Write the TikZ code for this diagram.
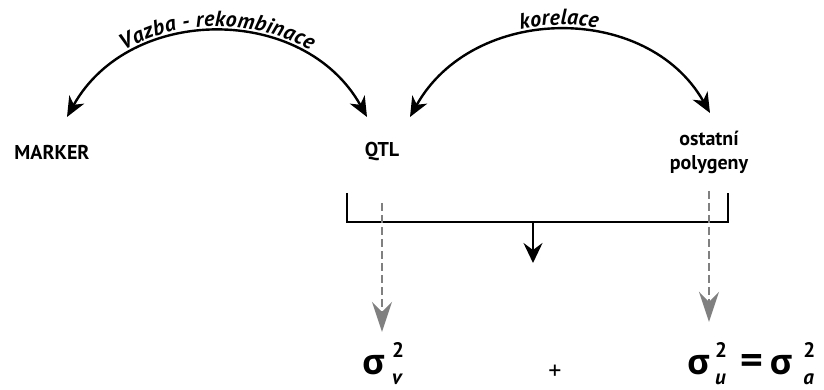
\documentclass[tikz,border=0pt]{standalone}
\usepackage{fontspec}
\setmainfont{PT Sans}
\newfontfamily\greekfont{Open Sans}
\usetikzlibrary{arrows.meta, positioning, decorations.text}

\newcommand{\vsig}[2]{{\greekfont\bfseries σ}\kern#1\rlap{\fontsize{21}{24}\selectfont\bfseries\raisebox{17pt}{2}}{\fontsize{21}{24}\selectfont\bfseries\itshape\raisebox{-10pt}{#2}}}
\newcommand{\arclabfont}{\fontsize{22}{26}\selectfont\bfseries\itshape}

\begin{document}
\begin{tikzpicture}[x=1pt, y=-1pt,
    lbl/.style={font=\fontsize{20}{24}\selectfont\bfseries, align=center},
    arc/.style={line width=2.4pt, {Stealth[length=20pt,width=17pt,inset=6pt]}-{Stealth[length=20pt,width=17pt,inset=6pt]}},
    bracket/.style={line width=2.4pt},
    down/.style={line width=2.4pt, -{Stealth[length=20pt,width=19pt,inset=7pt]}},
    dasharrow/.style={line width=2pt, gray, dash pattern=on 8pt off 4pt, -{Stealth[length=30pt,width=20pt,inset=10pt]}},
    sig/.style={font=\fontsize{35}{38}\selectfont, inner sep=0pt, anchor=base west}]
    \useasboundingbox (0,0) rectangle (824,390);

    \node [lbl] (marker) at (52,152) {MARKER};
    \node [lbl, right of=marker, node distance=330pt] (qtl) {QTL};
    \node [lbl, right of=qtl, node distance=327pt] (poly) {ostatní\\polygeny};

    \node [sig] (sv) at (362,374) {\vsig{7pt}{v}};
    \node [font=\fontsize{26}{30}\selectfont] (plus) at (555,372) {+};
    \node [sig] (su) at (687,374) {\vsig{5pt}{u}\kern15pt{\greekfont\bfseries\fontsize{40}{40}\selectfont =}\kern6pt\vsig{11pt}{a}};

    \coordinate (mk-top) at (67,117);
    \coordinate (qtl-l) at (367,117);
    \coordinate (qtl-r) at (410,117);
    \coordinate (poly-top) at (710,113);

    \draw [arc, postaction={decorate, decoration={text along path, text align=center, raise=6pt, text={|\arclabfont|Vazba - rekombinace}}}]
        (mk-top) .. controls (130,4) and (304,4) .. (qtl-l);
    \draw [arc, postaction={decorate, decoration={text along path, text align=center, raise=6pt, text={|\arclabfont|korelace}}}]
        (qtl-r) .. controls (473,4) and (647,2) .. (poly-top);

    \coordinate (br-l) at (347,193);
    \coordinate (br-r) at (728,193);
    \coordinate (br-mid) at (533,222);
    \coordinate (sum-top) at (533,263);
    \draw [bracket] (br-l) -- ++(0,29) -| (br-r);
    \draw [down] (br-mid) -- (sum-top);

    \draw [dasharrow, shorten <=38pt, shorten >=10pt] (qtl.south) -- (qtl.south |- sv.north);
    \draw [dasharrow, shorten <=14pt, shorten >=20pt] (poly.south) -- (poly.south |- su.north);
\end{tikzpicture}
\end{document}
